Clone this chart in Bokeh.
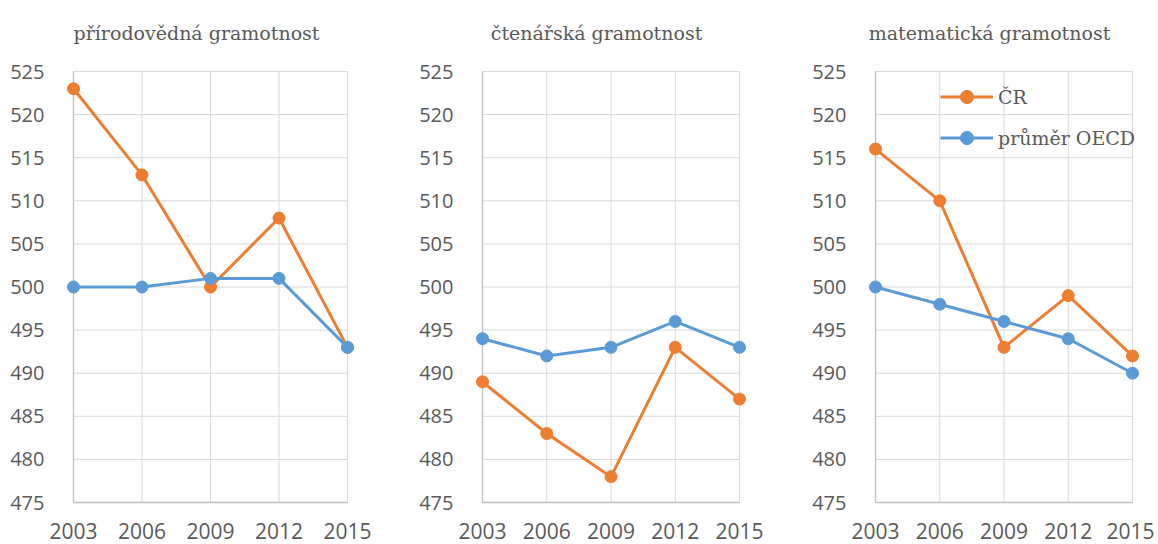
from bokeh.plotting import figure
from bokeh.layouts import row
from bokeh.models import Legend, LegendItem, FixedTicker, Range1d
from bokeh.core.properties import value
from bokeh.embed import file_html
from bokeh.resources import INLINE

# ---- data ----
years = [2003, 2006, 2009, 2012, 2015]
y_ticks = [475, 480, 485, 490, 495, 500, 505, 510, 515, 520, 525]
titles = ["přírodovědná gramotnost", "čtenářská gramotnost", "matematická gramotnost"]
series_names = ["ČR", "průměr OECD"]
cr_science = [523, 513, 500, 508, 493]
oecd_science = [500, 500, 501, 501, 493]
cr_reading = [489, 483, 478, 493, 487]
oecd_reading = [494, 492, 493, 496, 493]
cr_math = [516, 510, 493, 499, 492]
oecd_math = [500, 498, 496, 494, 490]

# ---- styles / layout (pixels) ----
ORANGE = "#ED7D31"
BLUE = "#5B9BD5"
GRID = "#D9D9D9"
AXIS = "#BFBFBF"
TEXT = "#595959"
SANS = "Open Sans"
SERIF = "DejaVu Serif"

GRID_TOP = 71        # canvas y of the top gridline
GRID_H = 431         # pixels for the full y span
PAD_Y = 2            # below bottom gridline
PAD_X = 8
TITLE_BASE = 32      # canvas y of the title baseline
# (border_left, grid_width_px, border_right, title_center_offset_px)
panels = [
    (65, 274, 45, 123),
    (74, 257, 43, 114),
    (77, 257, 14, 114),
]
data = [
    (cr_science, oecd_science),
    (cr_reading, oecd_reading),
    (cr_math, oecd_math),
]

figs = []
for i, ((bl, gw, br, tx), (cr, oecd), title) in enumerate(zip(panels, data, titles)):
    span_x = years[-1] - years[0]
    span_y = y_ticks[-1] - y_ticks[0]
    ux = span_x / gw          # data units per pixel, x
    uy = span_y / GRID_H      # data units per pixel, y
    fw = gw + 2 * PAD_X
    fh = GRID_TOP + GRID_H + PAD_Y
    p = figure(
        frame_width=fw, frame_height=fh,
        min_border_left=bl, min_border_right=br,
        min_border_top=0, min_border_bottom=40,
        x_range=Range1d(years[0] - PAD_X * ux, years[-1] + PAD_X * ux),
        y_range=Range1d(y_ticks[0] - PAD_Y * uy, y_ticks[-1] + GRID_TOP * uy),
        output_backend="svg", toolbar_location=None, title=None,
    )
    p.outline_line_color = None
    p.background_fill_color = "white"
    p.border_fill_color = "white"
    p.xgrid.visible = False
    p.ygrid.visible = False

    # axes
    p.xaxis.ticker = FixedTicker(ticks=years)
    p.yaxis.ticker = FixedTicker(ticks=y_ticks)
    for ax in (p.xaxis, p.yaxis):
        ax.axis_line_color = None
        ax.major_tick_line_color = None
        ax.minor_tick_line_color = None
        ax.major_label_text_color = TEXT
        ax.major_label_text_font = SANS
    p.xaxis.major_label_text_font_size = "21px"
    p.xaxis.major_label_standoff = 12
    p.yaxis.major_label_text_font_size = "20px"
    p.yaxis.major_label_standoff = 15

    # gridlines (drawn only over the data span)
    p.segment(x0=years, x1=years, y0=[y_ticks[0]] * len(years), y1=[y_ticks[-1]] * len(years),
              line_color=GRID, line_width=1)
    p.segment(x0=[years[0]] * len(y_ticks), x1=[years[-1]] * len(y_ticks), y0=y_ticks, y1=y_ticks,
              line_color=GRID, line_width=1)
    # axis lines
    p.segment(x0=[years[0]], x1=[years[0]], y0=[y_ticks[0]], y1=[y_ticks[-1]], line_color=AXIS, line_width=1.3)
    p.segment(x0=[years[0]], x1=[years[-1]], y0=[y_ticks[0]], y1=[y_ticks[0]], line_color=AXIS, line_width=1.3)

    l1 = p.line(years, cr, line_color=ORANGE, line_width=3, line_join="round")
    m1 = p.scatter(years, cr, size=12, fill_color=ORANGE, line_color=ORANGE)
    l2 = p.line(years, oecd, line_color=BLUE, line_width=3, line_join="round")
    m2 = p.scatter(years, oecd, size=12, fill_color=BLUE, line_color=BLUE)

    # panel title (drawn inside the frame, above the grid)
    p.text(x=[years[0] + tx * ux], y=[y_ticks[-1] + (GRID_TOP - TITLE_BASE) * uy], text=[title],
           text_align="center", text_baseline="alphabetic",
           text_font=value(SERIF), text_font_size="19px", text_color=TEXT)

    if i == 2:
        legend = Legend(
            items=[LegendItem(label=series_names[0], renderers=[l1, m1]),
                   LegendItem(label=series_names[1], renderers=[l2, m2])],
            location=(73, 350),
            padding=0, margin=0, spacing=8,
            glyph_width=53, glyph_height=33, label_height=33,
            label_standoff=5,
            label_text_font=SERIF, label_text_font_size="19px", label_text_color=TEXT,
            border_line_color=None, background_fill_alpha=0,
        )
        p.add_layout(legend)
    figs.append(p)

layout = row(*figs)
open("out.html", "w").write(file_html(layout, INLINE))
